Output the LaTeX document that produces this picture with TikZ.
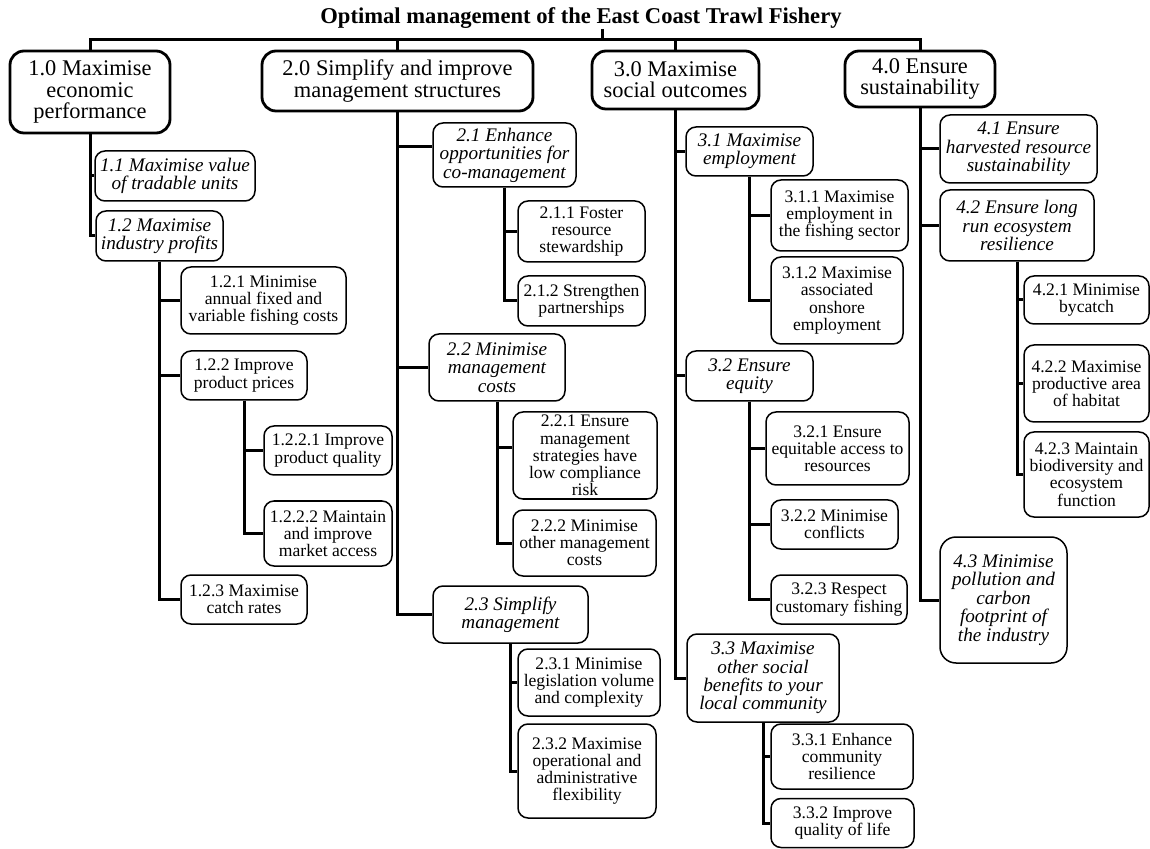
\documentclass[tikz,border=0pt]{standalone}
\usepackage{fontspec}
\setmainfont{Liberation Serif}
\usepackage{tikz}

\begin{document}
\begin{tikzpicture}[x=0.5pt, y=-0.5pt,
	goal/.style={draw, line width=1.4pt, rounded corners=7pt, align=center, inner sep=1pt, font=\fontsize{11.2}{10.6}\selectfont},
	obj/.style={draw, line width=0.75pt, rounded corners=5pt, align=center, inner sep=1pt, font=\fontsize{9.6}{9.2}\selectfont\itshape},
	leaf/.style={draw, line width=0.75pt, rounded corners=5pt, align=center, inner sep=1pt, font=\fontsize{8.8}{8.6}\selectfont},
	wh/.style 2 args={minimum width=#1*0.5pt, minimum height=#2*0.5pt},
	link/.style={line width=1.5pt}]

\useasboundingbox (0,0) rectangle (1150,849);

\node[anchor=base, font=\bfseries\fontsize{11.3}{12}\selectfont] (title) at (581,24) {Optimal management of the East Coast Trawl Fishery};
\coordinate (root) at (602,29);
\coordinate (bus) at (0,40);

% top level goals
\node[goal, wh={160}{82}] (g1) at (90,92) {1.0 Maximise\\economic\\performance};
\node[goal, wh={271}{60}] (g2) at (397.5,81) {2.0 Simplify and improve\\management structures};
\node[goal, wh={167}{58}] (g3) at (675.5,80) {3.0 Maximise\\social outcomes};
\node[goal, wh={150}{56}] (g4) at (920,79) {4.0 Ensure\\sustainability};

% 1.0
\node[obj, wh={160}{50}] (o11) at (175,176) {1.1 Maximise value\\of tradable units};
\node[obj, wh={127}{50}] (o12) at (159.5,236) {1.2 Maximise\\industry profits};
\node[leaf, wh={165}{67}] (s121) at (263.5,300.5) {1.2.1 Minimise\\annual fixed and\\variable fishing costs};
\node[leaf, wh={126}{49}] (s122) at (244,375.5) {1.2.2 Improve\\product prices};
\node[leaf, wh={128}{49}] (s1221) at (328,450.5) {1.2.2.1 Improve\\product quality};
\node[leaf, wh={128}{65}] (s1222) at (328,533.5) {1.2.2.2 Maintain\\and improve\\market access};
\node[leaf, wh={126}{49}] (s123) at (244,599.5) {1.2.3 Maximise\\catch rates};

% 2.0
\node[obj, wh={143}{64}] (o21) at (504.5,155) {2.1 Enhance\\opportunities for\\co-management};
\node[leaf, wh={127}{61}] (s211) at (581.5,231.5) {2.1.1 Foster\\resource\\stewardship};
\node[leaf, wh={127}{50}] (s212) at (581.5,301) {2.1.2 Strengthen\\partnerships};
\node[obj, wh={136}{67}] (o22) at (497,367.5) {2.2 Minimise\\management\\costs};
\node[leaf, wh={144}{87}] (s221) at (585,455.5) {2.2.1 Ensure\\management\\strategies have\\low compliance\\risk};
\node[leaf, wh={143}{66}] (s222) at (584.5,543) {2.2.2 Minimise\\other management\\costs};
\node[obj, wh={155}{57}] (o23) at (510.5,614.5) {2.3 Simplify\\management};
\node[leaf, wh={142}{67}] (s231) at (589,682.5) {2.3.1 Minimise\\legislation volume\\and complexity};
\node[leaf, wh={138}{94}] (s232) at (587,771) {2.3.2 Maximise\\operational and\\administrative\\flexibility};

% 3.0
\node[obj, wh={127}{49}] (o31) at (749.5,151.5) {3.1 Maximise\\employment};
\node[leaf, wh={137}{71}] (s311) at (839.5,215.5) {3.1.1 Maximise\\employment in\\the fishing sector};
\node[leaf, wh={132}{87}] (s312) at (837,300.5) {3.1.2 Maximise\\associated\\onshore\\employment};
\node[obj, wh={127}{50}] (o32) at (749.5,376) {3.2 Ensure\\equity};
\node[leaf, wh={143}{73}] (s321) at (837.5,448.5) {3.2.1 Ensure\\equitable access to\\resources};
\node[leaf, wh={127}{49}] (s322) at (834.5,524.5) {3.2.2 Minimise\\conflicts};
\node[leaf, wh={136}{49}] (s323) at (839,599.5) {3.2.3 Respect\\customary fishing};
\node[obj, wh={152}{88}] (o33) at (763,678) {3.3 Maximise\\other social\\benefits to your\\local community};
\node[leaf, wh={142}{65}] (s331) at (842,756.5) {3.3.1 Enhance\\community\\resilience};
\node[leaf, wh={143}{49}] (s332) at (842.5,823) {3.3.2 Improve\\quality of life};

% 4.0
\node[obj, wh={157}{68}] (o41) at (1018.5,149) {4.1 Ensure\\harvested resource\\sustainability};
\node[obj, wh={154}{71}] (o42) at (1017,225.5) {4.2 Ensure long\\run ecosystem\\resilience};
\node[leaf, wh={125}{48}] (s421) at (1086.5,300) {4.2.1 Minimise\\bycatch};
\node[leaf, wh={125}{77}] (s422) at (1086.5,383.5) {4.2.2 Maximise\\productive area\\of habitat};
\node[leaf, wh={125}{85}] (s423) at (1086.5,474.5) {4.2.3 Maintain\\biodiversity and\\ecosystem\\function};
\node[obj, wh={127}{126}, rounded corners=8pt] (o43) at (1003.5,600) {4.3 Minimise\\pollution and\\carbon\\footprint of\\the industry};

% top bus
\draw[link] (g1.north) |- (g4.north |- bus) -- (g4.north);
\foreach \g in {g2, g3}
	\draw[link] (\g.north) -- (\g.north |- bus);
\draw[link] (root) -- (root |- bus); % title stub

% tree links
\foreach \c in {o11, o12}
	\draw[link] (g1.south) |- (\c.west);
\foreach \c in {s121, s122, s123}
	\draw[link] (o12.south) |- (\c.west);
\foreach \c in {s1221, s1222}
	\draw[link] (s122.south) |- (\c.west);

\draw[link] (g2.south) |- ([yshift=4pt]o21.west);
\foreach \c in {o22, o23}
	\draw[link] (g2.south) |- (\c.west);
\foreach \c in {s211, s212}
	\draw[link] (o21.south) |- (\c.west);
\draw[link] (o22.south) |- ([yshift=4pt]s221.west);
\draw[link] (o22.south) |- (s222.west);
\foreach \c in {s231, s232}
	\draw[link] (o23.south) |- (\c.west);

\foreach \c in {o31, o32, o33}
	\draw[link] (g3.south) |- (\c.west);
\foreach \c in {s311, s312}
	\draw[link] (o31.south) |- (\c.west);
\foreach \c in {s321, s322, s323}
	\draw[link] (o32.south) |- (\c.west);
\foreach \c in {s331, s332}
	\draw[link] (o33.south) |- (\c.west);

\foreach \c in {o41, o42, o43}
	\draw[link] (g4.south) |- (\c.west);
\foreach \c in {s421, s422, s423}
	\draw[link] (o42.south) |- (\c.west);

\end{tikzpicture}
\end{document}
